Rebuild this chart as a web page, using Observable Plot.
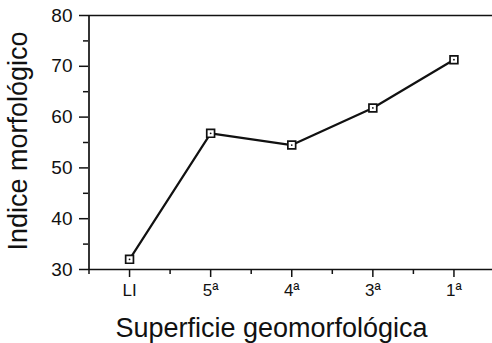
<!DOCTYPE html>
<html><head><meta charset="utf-8">
<script src="https://cdn.jsdelivr.net/npm/d3@7"></script>
<script src="https://cdn.jsdelivr.net/npm/@observablehq/plot@0.6"></script>
<style>body{margin:0;background:#fff} svg{display:block}</style>
</head><body><div id="chart"></div>
<script>
const categories = ["LI", "5ª", "4ª", "3ª", "1ª"];
const values = [32, 56.8, 54.5, 61.8, 71.3];
const yTicks = [30, 40, 50, 60, 70, 80];
const yMinorTicks = [35, 45, 55, 65, 75];
const xTicks = [0, 1, 2, 3, 4];
const xMinorTicks = [-0.5, 0.5, 1.5, 2.5, 3.5];
const xLabel = "Superficie geomorfológica";
const yLabel = "Indice morfológico";

const data = categories.map((c, i) => ({i, c, v: values[i]}));
const font = "'Liberation Sans', Arial, Helvetica, sans-serif";

const chart = Plot.plot({
  width: 492,
  height: 343,
  marginLeft: 88,
  marginRight: 0,
  marginTop: 15,
  marginBottom: 74,
  style: {fontFamily: font, color: "#111", background: "#fff"},
  x: {domain: [-0.5, 4.5], range: [88.5, 494]},
  y: {domain: [30, 80], range: [269, 15]},
  marks: [
    Plot.ruleY([80], {stroke: "#111", strokeWidth: 1.7}),
    Plot.ruleY([30], {stroke: "#111", strokeWidth: 1.7}),
    Plot.ruleX([-0.5], {stroke: "#111", strokeWidth: 1.7}),
    Plot.axisY({ticks: yTicks, tickSize: 9, tickPadding: 7, fontSize: 19, label: null, strokeWidth: 1.5, tickFormat: d => d}),
    Plot.axisY({ticks: yMinorTicks, tickSize: 5, label: null, strokeWidth: 1.5, tickFormat: () => ""}),
    Plot.axisX({ticks: xTicks, tickSize: 8, tickPadding: 6, fontSize: 17, label: null, strokeWidth: 1.5, tickFormat: i => categories[i]}),
    Plot.axisX({ticks: xMinorTicks, tickSize: 5, label: null, strokeWidth: 1.5, tickFormat: () => ""}),
    Plot.line(data, {x: "i", y: "v", stroke: "#111", strokeWidth: 2.2}),
    Plot.dot(data, {x: "i", y: "v", symbol: "square", r: 4.4, fill: "white", stroke: "#111", strokeWidth: 1.7}),
    Plot.dot(data, {x: "i", y: "v", r: 0.9, fill: "#111", stroke: "none"}),
    Plot.text([yLabel], {text: d => d, frameAnchor: "left", textAnchor: "middle", lineAnchor: "middle", rotate: -90, dx: -70, dy: -1.5, fontSize: 27, fill: "#111"}),
    Plot.text([xLabel], {text: d => d, frameAnchor: "bottom", textAnchor: "middle", lineAnchor: "middle", dx: -19, dy: 59, fontSize: 27, fill: "#111"})
  ]
});
document.getElementById("chart").appendChild(chart);
</script>
</body></html>
